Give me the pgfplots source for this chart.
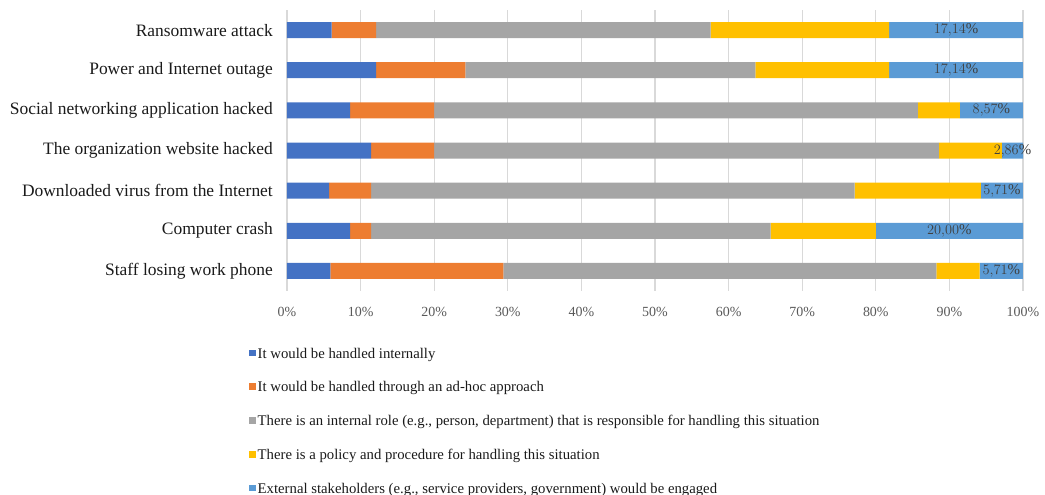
\documentclass[border=0pt]{standalone}
\usepackage{pgfplots}
\pgfplotsset{compat=1.18}
\usepackage{pgfplotstable}
\usepackage{fontspec}
\setmainfont{Liberation Serif}
\definecolor{cA}{HTML}{4472C4}
\definecolor{cB}{HTML}{ED7D31}
\definecolor{cC}{HTML}{A5A5A5}
\definecolor{cD}{HTML}{FFC000}
\definecolor{cE}{HTML}{5B9BD5}
\definecolor{gridc}{HTML}{D9D9D9}
\definecolor{tickc}{HTML}{595959}
\definecolor{catc}{HTML}{1A1A1A}
\definecolor{labc}{HTML}{404040}
\pgfplotstableread{
y a b c d e lx lab
0 6.06 6.06 45.45 24.24 18.18 90.91 17.14
1 12.12 12.12 39.39 18.18 18.18 90.91 17.14
2 8.57 11.43 65.71 5.71 8.57 95.71 8.57
3 11.43 8.57 68.57 8.57 2.86 98.57 2.86
4 5.71 5.71 65.71 17.14 5.71 97.14 5.71
5 8.57 2.86 54.29 14.29 20.00 90.00 20.00
6 5.88 23.53 58.82 5.88 5.88 97.06 5.71
}\datatable
\begin{document}
\begin{tikzpicture}
\useasboundingbox (-287bp,-204bp) rectangle (758bp,291bp);
\begin{axis}[
 at={(0,0)}, anchor=south west,
 scale only axis, width=736bp, height=281bp,
 xbar stacked, bar width=16bp,
 xmin=0, xmax=100, ymin=-0.5, ymax=6.5, y dir=reverse,
 xtick={0,10,...,100},
 xticklabel={\pgfmathprintnumber{\tick}\%},
 ytick={0,...,6},
 yticklabels={Ransomware attack, Power and Internet outage, Social networking application hacked, The organization website hacked, Downloaded virus from the Internet, Computer crash, Staff losing work phone},
 xmajorgrids, major grid style={draw=gridc, line width=1.3bp},
 axis line style={draw=none},
 major tick length=0pt,
 /pgf/number format/assume math mode=true,
 xticklabel style={font=\fontsize{14}{16}\selectfont, text=tickc, inner sep=0pt, anchor=north, yshift=-16bp},
 yticklabel style={font=\fontsize{17.5}{20}\selectfont, text=catc, anchor=east, inner sep=0pt, xshift=-14bp},
 legend style={at={(-0.0516,-0.2028)}, anchor=north west, draw=none, fill=none, inner sep=0pt, row sep=20.8bp, legend cell align=left, font=\fontsize{14.8}{16}\selectfont, text=catc, nodes={inner ysep=0pt, inner xsep=2bp, text height=10bp, text depth=3bp}},
 legend columns=1,
 legend image code/.code={\fill[#1] (0bp,-1.5bp) rectangle (6.5bp,5bp);},
]
\addplot[fill=cA, draw=none] table[x=a, y=y]{\datatable};
\addlegendentry{It would be handled internally}
\addplot[fill=cB, draw=none] table[x=b, y=y]{\datatable};
\addlegendentry{It would be handled through an ad-hoc approach}
\addplot[fill=cC, draw=none] table[x=c, y=y]{\datatable};
\addlegendentry{There is an internal role (e.g., person, department) that is responsible for handling this situation}
\addplot[fill=cD, draw=none] table[x=d, y=y]{\datatable};
\addlegendentry{There is a policy and procedure for handling this situation}
\addplot[fill=cE, draw=none] table[x=e, y=y]{\datatable};
\addlegendentry{External stakeholders (e.g., service providers, government) would be engaged}
\end{axis}
\begin{axis}[
 at={(0,0)}, anchor=south west,
 scale only axis, width=736bp, height=281bp,
 xmin=0, xmax=100, ymin=-0.5, ymax=6.5, y dir=reverse,
 hide axis, clip=false,
]
\addplot[draw=none, mark=none, point meta=explicit,
 nodes near coords={\pgfmathprintnumber[fixed,fixed zerofill,precision=2,use comma]{\pgfplotspointmeta}\%},
 nodes near coords align=center,
 every node near coord/.append style={font=\fontsize{15}{17}\selectfont, text=labc, anchor=center, inner sep=0pt}]
 table[x=lx, y=y, meta=lab]{\datatable};
\end{axis}
\end{tikzpicture}
\end{document}
